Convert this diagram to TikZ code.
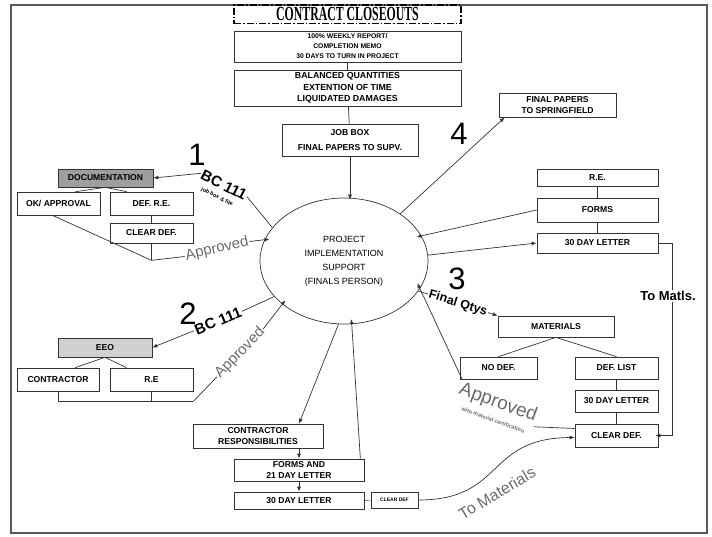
\documentclass[tikz,border=0pt]{standalone}
\usepackage{graphicx}
\usepackage{fontspec}
\setmainfont{Liberation Sans}
\newfontfamily\titlefont{Liberation Serif}
\usetikzlibrary{arrows.meta,shapes.geometric}

\begin{document}
\begin{tikzpicture}[x=1pt,y=-1pt,
  box/.style={draw=black!80, line width=0.7pt, fill=white, align=center, inner sep=1pt,
    font=\fontsize{8.6}{11.5}\selectfont\bfseries},
  con/.style={draw=black!80, line width=0.7pt},
  arr/.style={con, -{Latex[length=5pt,width=4pt]}},
  bignum/.style={font=\fontsize{31}{31}\selectfont, inner sep=0pt},
  apvtext/.style={text=black!58, inner sep=1pt},
  bctext/.style={font=\fontsize{15}{15}\selectfont\bfseries, inner sep=1pt}]
\useasboundingbox (0,0) rectangle (712,536);
% Draw the frame
\draw[black!65, line width=1.3pt] (11,5) rectangle (707,533);
% Draw the title and the boxes down to the job box
\node[draw, line width=1.1pt, dash pattern=on 7pt off 2pt on 1.5pt off 2pt,
  minimum width=227pt, minimum height=18.5pt, inner sep=0pt] (title) at (347.5,14.25)
  {\titlefont\bfseries\fontsize{20}{20}\selectfont\scalebox{0.59}[1]{CONTRACT CLOSEOUTS}};
\node[box, minimum width=227pt, minimum height=31pt, font=\fontsize{6.8}{10}\selectfont\bfseries]
  (weekly) at (347.5,46.5) {100\% WEEKLY REPORT/\\COMPLETION MEMO\\30 DAYS TO TURN IN PROJECT};
\node[box, minimum width=227pt, minimum height=36pt, font=\fontsize{8.8}{11.5}\selectfont\bfseries]
  (balanced) at (347.5,88) {BALANCED QUANTITIES\\EXTENTION OF TIME\\LIQUIDATED DAMAGES};
\node[box, minimum width=136pt, minimum height=32pt, font=\fontsize{8.6}{15}\selectfont\bfseries]
  (jobbox) at (350,140) {JOB BOX\\FINAL PAPERS TO SUPV.};
% Draw the finals person
\node[ellipse, draw=black!80, line width=0.7pt, minimum width=168pt, minimum height=126pt,
  inner sep=0pt, align=center, font=\fontsize{9}{14}\selectfont] (pis) at (344,261)
  {PROJECT\\IMPLEMENTATION\\SUPPORT\\(FINALS PERSON)};
\draw[con] (weekly) -- (balanced);
\draw[con] (balanced) -- (jobbox);
\draw[arr, shorten >=-2pt] (jobbox.south) -- (jobbox.south |- pis.north);
% Step 4: final papers
\node[bignum] (four) at (459,134) {4};
\node[box, minimum width=117pt, minimum height=24pt] (finpap) at (557.5,105) {FINAL PAPERS\\TO SPRINGFIELD};
\draw[arr] (pis.40) -- ([xshift=6pt]finpap.south west);
% Step 1: documentation
\node[bignum] (one) at (197,155) {1};
\node[box, fill=black!38, minimum width=95pt, minimum height=18pt] (doc) at (105.5,178) {DOCUMENTATION};
\node[box, minimum width=83pt, minimum height=23pt] (okapp) at (58.5,203.5) {OK/ APPROVAL};
\node[box, minimum width=83pt, minimum height=23pt] (defre) at (151.5,203.5) {DEF. R.E.};
\node[box, minimum width=83pt, minimum height=20pt] (clrdefa) at (151.5,233) {CLEAR DEF.};
\draw[con] (doc.south) -- ([xshift=17pt]okapp.north);
\draw[con] (doc.south) -- ([xshift=-25pt]defre.north);
\draw[con] (defre) -- (clrdefa);
\coordinate (joina) at ([yshift=-17pt]clrdefa.south);
\draw[con] ([xshift=-6pt]okapp.south) -- (joina);
\draw[con] (clrdefa.south) -- (joina);
\node[apvtext, rotate=13, font=\fontsize{15}{15}\selectfont] (apva) at (217,249) {Approved};
\draw[con] (joina) -- (apva.west);
\draw[arr, shorten >=-5pt] (apva.east) -- (pis.165);
\node[bctext, rotate=-27] (bca) at (224,185) {BC 111};
\node[rotate=-27, inner sep=0pt, font=\fontsize{5.5}{6}\selectfont\bfseries] (jobfile) at (217,197) {job box \& file};
\draw[con] (pis.155) -- (bca.east);
\draw[arr] (bca.west) -- (doc.east);
% Step 2: EEO
\node[bignum] (two) at (188,314) {2};
\node[box, fill=black!18, minimum width=94pt, minimum height=19pt] (eeo) at (105,347.5) {EEO};
\node[box, minimum width=82pt, minimum height=23pt] (contr) at (58,379.5) {CONTRACTOR};
\node[box, minimum width=83pt, minimum height=23pt] (reb) at (151.5,379.5) {R.E};
\draw[con] (eeo.south) -- ([xshift=17pt]contr.north);
\draw[con] (eeo.south) -- ([xshift=-25pt]reb.north);
\coordinate (joinb) at ([yshift=-10pt]reb.south east);
\draw[con] (contr.south) -- (contr.south |- joinb) -- (joinb);
\draw[con] (reb.south) -- (reb.south |- joinb);
\node[apvtext, rotate=46, font=\fontsize{15}{15}\selectfont] (apvb) at (240,353) {Approved};
\draw[con] (joinb) -- (apvb.west);
\draw[arr, shorten >=-5pt] (apvb.east) -- (pis.215);
\node[bctext, rotate=22] (bcb) at (218,321) {BC 111};
\draw[con] (pis.207) -- (bcb.east);
\draw[arr] (bcb.west) -- (eeo.east);
% Contractor responsibilities
\node[box, minimum width=130pt, minimum height=24pt] (conresp) at (258,436) {CONTRACTOR\\RESPONSIBILITIES};
\node[box, minimum width=130pt, minimum height=22pt] (formsb) at (299,470) {FORMS AND\\21 DAY LETTER};
\node[box, minimum width=130pt, minimum height=17pt] (dayb) at (299,500.5) {30 DAY LETTER};
\node[box, minimum width=47pt, minimum height=16pt, font=\fontsize{5}{6}\selectfont\bfseries] (clrsmall) at (394.5,500) {CLEAR DEF};
\draw[arr] (pis.265) -- (conresp.north -| formsb.north);
\draw[arr] (conresp.south -| formsb.north) -- (formsb.north);
\draw[arr] (formsb.south) -- (dayb.north);
\draw[arr, shorten >=-5pt] ([xshift=-4pt]formsb.north east) -- (pis.277);
\draw[con] (dayb) -- (clrsmall);
% R.E. forms and letter
\node[box, minimum width=121pt, minimum height=17pt] (rer) at (597.5,177.5) {R.E.};
\node[box, minimum width=121pt, minimum height=24pt] (formsr) at (597.5,210) {FORMS};
\node[box, minimum width=121pt, minimum height=20pt] (dayr) at (597.5,243) {30 DAY LETTER};
\draw[con] (rer) -- (formsr);
\draw[con] (formsr) -- (dayr);
\draw[arr, shorten >=-5pt] (formsr.west) -- (pis.18);
\draw[arr] (pis.4) -- (dayr.west);
% Step 3: materials
\node[bignum] (three) at (457,279) {3};
\node[box, minimum width=116pt, minimum height=21pt] (mat) at (556,326.5) {MATERIALS};
\node[box, minimum width=77pt, minimum height=22pt] (nodef) at (498.5,368) {NO DEF.};
\node[box, minimum width=83pt, minimum height=22pt] (deflist) at (616.5,368) {DEF. LIST};
\node[box, minimum width=83pt, minimum height=22pt] (daym) at (616.5,401) {30 DAY LETTER};
\node[box, minimum width=83pt, minimum height=23pt] (clrdefr) at (616.5,435.5) {CLEAR DEF.};
\draw[arr] (pis.-22) -- node[sloped, fill=white, inner sep=1pt,
  font=\fontsize{12.5}{12.5}\selectfont\bfseries] (fqty) {Final Qtys} (mat.north west);
\draw[con] (mat.south) -- (nodef.north);
\draw[con] (mat.south) -- (deflist.north);
\draw[con] (deflist) -- (daym);
\draw[con] (daym) -- (clrdefr);
\draw[arr, shorten >=-3pt] (dayr.east) -- ++(14,0) |- (clrdefr.east);
\node[fill=white, inner sep=1pt, font=\fontsize{13}{13}\selectfont\bfseries] (tomatls) at (668,296) {To Matls.};
\node[apvtext, rotate=-20, font=\fontsize{19}{19}\selectfont] (apvc) at (498,403) {Approved};
\node[apvtext, rotate=-20, inner sep=0pt, font=\fontsize{5.5}{6}\selectfont\bfseries] (withcert) at (493,420) {with material certification};
\draw[arr, shorten >=-6pt] (apvc.north west) -- (pis.-20);
\draw[con] (apvc.south east) -- ([yshift=7pt]clrdefr.west);
\draw[arr] (clrsmall.east) .. controls (505,500) and (485,438) .. ([yshift=-2pt]clrdefr.west);
\node[apvtext, rotate=31, font=\fontsize{16}{16}\selectfont] (tomat) at (497,493) {To Materials};
\end{tikzpicture}
\end{document}
